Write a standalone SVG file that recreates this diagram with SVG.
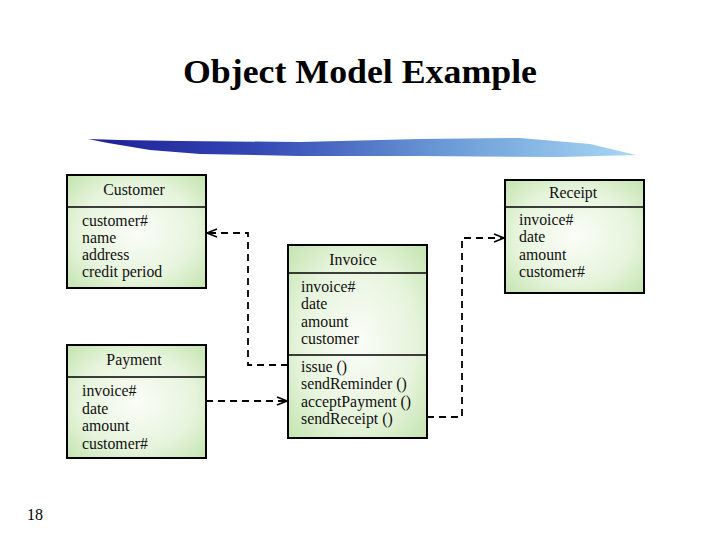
<svg xmlns="http://www.w3.org/2000/svg" width="720" height="540" viewBox="0 0 720 540">
<defs>
<radialGradient id="g" cx="50%" cy="50%" r="70%">
<stop offset="0" stop-color="#fbfdf8"/>
<stop offset="0.6" stop-color="#e6f4dc"/>
<stop offset="1" stop-color="#c4e4b0"/>
</radialGradient>
<linearGradient id="b" x1="0" y1="0" x2="1" y2="0">
<stop offset="0" stop-color="#1e1e96"/>
<stop offset="0.3" stop-color="#3346b4"/>
<stop offset="0.65" stop-color="#6a9ad6"/>
<stop offset="1" stop-color="#a8d8f4"/>
</linearGradient>
<marker id="ar" markerWidth="12" markerHeight="10" refX="11" refY="5" orient="auto" markerUnits="userSpaceOnUse">
<path d="M1,1 L11,5 L1,9" fill="none" stroke="#000" stroke-width="1.5"/>
</marker>
</defs>
<style>
.box{fill:url(#g);stroke:#000;stroke-width:2}
.div{stroke:#000;stroke-width:1.5}
.t{font-family:"Liberation Serif",serif;font-size:15.8px;fill:#111}
.h{text-anchor:middle}
.c{fill:none;stroke:#000;stroke-width:1.8;stroke-dasharray:7,5}
</style>
<rect width="720" height="540" fill="#fff"/>
<text x="360" y="83" text-anchor="middle" font-family="Liberation Serif,serif" font-size="33" font-weight="bold" textLength="354" lengthAdjust="spacingAndGlyphs" fill="#000">Object Model Example</text>
<path d="M88,139 L120,140 L180,141 L300,142 L420,139 L520,138 L590,144 L636,155 L560,157 L420,156 L300,156 L200,154 L150,150 L108,143 Z" fill="url(#b)"/>
<g id="customer">
<rect class="box" x="67" y="175" width="139" height="113"/>
<line class="div" x1="67" y1="207" x2="206" y2="207"/>
<text class="t h" x="134" y="195">Customer</text>
<text class="t" x="82" y="226">customer#</text>
<text class="t" x="82" y="243">name</text>
<text class="t" x="82" y="260">address</text>
<text class="t" x="82" y="277">credit period</text>
</g>
<g id="payment">
<rect class="box" x="67" y="345" width="139" height="113"/>
<line class="div" x1="67" y1="377" x2="206" y2="377"/>
<text class="t h" x="134" y="365">Payment</text>
<text class="t" x="82" y="396">invoice#</text>
<text class="t" x="82" y="414">date</text>
<text class="t" x="82" y="431">amount</text>
<text class="t" x="82" y="449">customer#</text>
</g>
<g id="invoice">
<rect class="box" x="288" y="245" width="139" height="193"/>
<line class="div" x1="288" y1="273" x2="427" y2="273"/>
<line class="div" x1="288" y1="355" x2="427" y2="355"/>
<text class="t h" x="353" y="265">Invoice</text>
<text class="t" x="301" y="292">invoice#</text>
<text class="t" x="301" y="309">date</text>
<text class="t" x="301" y="327">amount</text>
<text class="t" x="301" y="344">customer</text>
<text class="t" x="301" y="372">issue ()</text>
<text class="t" x="301" y="389">sendReminder ()</text>
<text class="t" x="301" y="407">acceptPayment ()</text>
<text class="t" x="301" y="424">sendReceipt ()</text>
</g>
<g id="receipt">
<rect class="box" x="505" y="180" width="139" height="113"/>
<line class="div" x1="505" y1="207" x2="644" y2="207"/>
<text class="t h" x="573" y="198">Receipt</text>
<text class="t" x="519" y="225">invoice#</text>
<text class="t" x="519" y="242">date</text>
<text class="t" x="519" y="260">amount</text>
<text class="t" x="519" y="277">customer#</text>
</g>
<g id="connectors">
<path class="c" d="M288,365 L248,365 L248,233 L207,233" marker-end="url(#ar)"/>
<path class="c" d="M206,401 L287,401" marker-end="url(#ar)"/>
<path class="c" d="M427,417 L462,417 L462,238 L504,238" marker-end="url(#ar)"/>
</g>
<text x="27" y="520" font-family="Liberation Serif,serif" font-size="16" fill="#000">18</text>
</svg>
